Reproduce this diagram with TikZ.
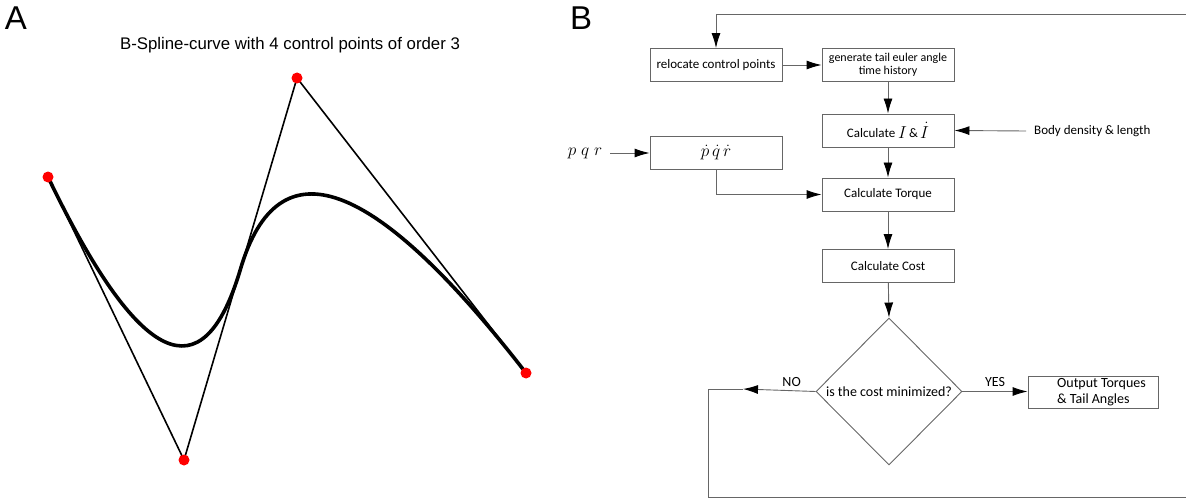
\documentclass[tikz,border=0pt]{standalone}
\usepackage{fontspec}
\usetikzlibrary{arrows.meta,shapes.geometric}
\newfontfamily\flowfont{Carlito}
\newfontfamily\labelfont{Liberation Sans}
\newcommand\flowsize{\fontsize{13}{14.5}\selectfont}
\newcommand\lowsize{\fontsize{14}{15.5}\selectfont}
\begin{document}
\begin{tikzpicture}[x=1pt,y=-1pt,
  box/.style={draw=black!60,line width=0.9pt,rectangle,inner sep=0pt,
    minimum width=132pt,minimum height=33pt,font=\flowfont\flowsize,align=center},
  decision/.style={draw=black!60,line width=0.9pt,diamond,aspect=1,inner sep=0pt,
    minimum width=146pt,minimum height=147pt,font=\flowfont\lowsize},
  flow/.style={draw=black!60,line width=0.9pt},
  arr/.style={flow,-{Latex[length=15pt,width=9pt,color=black]}},
  ctrl/.style={circle,fill=red,inner sep=0pt,minimum size=11pt},
  plain/.style={font=\flowfont\flowsize,inner sep=0pt}
]
\useasboundingbox (0,0) rectangle (1186,500);
\clip (0,0) rectangle (1186,500);

% panel letters
\node[font=\labelfont\fontsize{33}{33}\selectfont,inner sep=0pt] (lA) at (16,18) {A};
\node[font=\labelfont\fontsize{33}{33}\selectfont,inner sep=0pt] (lB) at (581,18) {B};

% ---------- panel A: quadratic B-spline ----------
\node[font=\labelfont\fontsize{16.8}{18}\selectfont,inner sep=0pt] (title) at (290,45)
  {B-Spline-curve with 4 control points of order 3};

\coordinate (P0) at (48,177);
\coordinate (P1) at (184,460);
\coordinate (P2) at (297,78);
\coordinate (P3) at (526,373);

% control polygon
\draw[line width=1.6pt,line join=round] (P0) -- (P1) -- (P2) -- (P3);
% clamped order-3 spline: two quadratic pieces written as cubics
\draw[line width=3.6pt,line cap=round]
  (P0) .. controls (138.67,365.67) and (202.83,396.33) .. (240.5,269)
       .. controls (278.17,141.67) and (373.33,176.33) .. (P3);
% control points
\foreach \p in {P0,P1,P2,P3} \node[ctrl] at (\p) {};

% ---------- panel B: optimisation flowchart ----------
\node[box] (reloc) at (716,65) {relocate control points};
\node[box,font=\flowfont\fontsize{12}{13.5}\selectfont] (gen) at (888,65)
  {generate tail euler angle\\time history};
\node[box] (calcI) at (888,130.5)
  {Calculate \raisebox{-1pt}{\fontsize{18}{18}\selectfont$I$}\,\&\,\raisebox{-1pt}{\fontsize{18}{18}\selectfont$\dot{I}$}};
\node[box,font=\fontsize{18}{18}\selectfont] (pdot) at (716,153) {$\dot{p}\,\dot{q}\,\dot{r}$};
\node[box] (torque) at (888,194.5) {Calculate Torque};
\node[box] (cost) at (888,266) {Calculate Cost};
\node[decision] (dec) at (889,391.5) {is the cost minimized?};
\node[box,font=\flowfont\lowsize,minimum width=130pt,minimum height=32pt,align=left] (out) at (1093,392)
  {\hspace*{17pt}Output Torques\\\hspace*{17pt}\& Tail Angles};

\node[plain,anchor=west,inner xsep=0pt] (body) at (1034,131) {Body density \& length};
\node[font=\fontsize{17.5}{17.5}\selectfont,inner sep=0pt] (pqr) at (585,153) {$p\;q\;r$};

\coordinate (bodyin) at (1026,131);
\coordinate (pqrout) at (610,153);

\draw[arr] (reloc) -- (gen);
\draw[arr] (gen) -- (calcI);
\draw[arr] (bodyin) -- (calcI.east);
\draw[arr] (pqrout) -- (pdot.west);
\draw[arr] (pdot.south) |- (torque.west);
\draw[arr] (calcI) -- (torque);
\draw[arr] (torque) -- (cost);
\draw[arr] (cost) -- (dec.north);
\draw[arr] (dec.east) -- node[plain,font=\flowfont\lowsize,above=4pt] {YES} (dec.east -| out.west);

% NO branch: feedback loop back to the control point relocation
\coordinate (noarr) at (743,389);
\coordinate (c1) at (708,389);
\coordinate (c2) at (708,497);
\coordinate (c3) at (1195,497);
\coordinate (c4) at (1195,14);
\coordinate (c5) at (716,14);
\draw[arr] (dec.west) -- node[plain,font=\flowfont\lowsize,above=4pt,pos=0.33] {NO} (noarr);
\draw[flow] (noarr) -- (c1) -- (c2) -- (c3) -- (c4) -- (c5);
\draw[arr] (c5) -- (reloc.north);
\end{tikzpicture}
\end{document}
